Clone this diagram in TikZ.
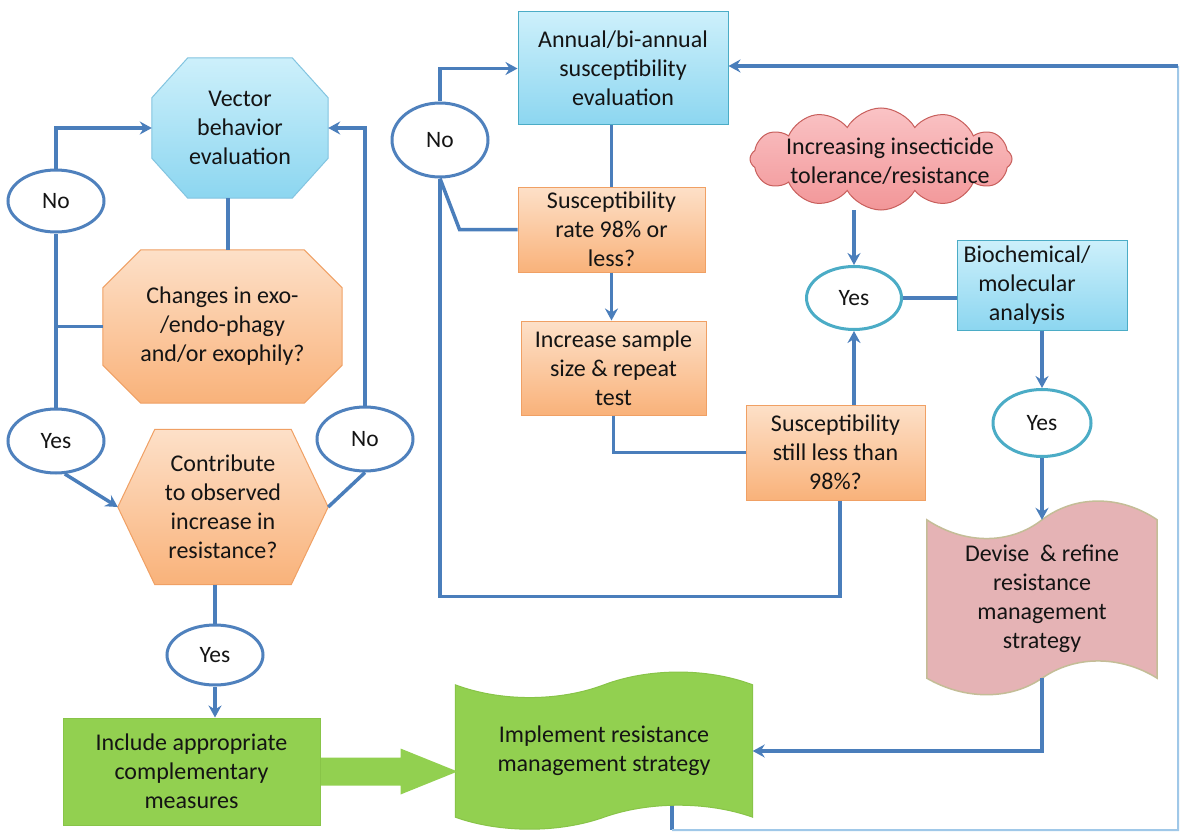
\documentclass[tikz,border=0pt]{standalone}
\usepackage{fontspec}
\setmainfont{Carlito}
\usetikzlibrary{arrows.meta,shapes.geometric,shapes.symbols,calc}
\pgfdeclarelayer{bg}
\pgfsetlayers{bg,main}
\definecolor{lineblue}{RGB}{74,126,187}
\definecolor{ovalblue}{RGB}{79,129,189}
\definecolor{tealc}{RGB}{75,172,198}
\definecolor{bluel}{RGB}{130,196,224}
\definecolor{bluetop}{RGB}{205,240,251}
\definecolor{bluebot}{RGB}{140,214,240}
\definecolor{orangetop}{RGB}{253,224,200}
\definecolor{orangebot}{RGB}{249,178,122}
\definecolor{orangeline}{RGB}{240,160,100}
\definecolor{greenf}{RGB}{146,208,80}
\definecolor{greenl}{RGB}{136,196,72}
\definecolor{cloudtop}{RGB}{250,195,197}
\definecolor{cloudbot}{RGB}{242,150,152}
\definecolor{cloudline}{RGB}{200,95,92}
\definecolor{devf}{RGB}{229,179,181}
\definecolor{devl}{RGB}{196,189,151}
\definecolor{textc}{RGB}{20,20,20}
\definecolor{fbthin}{RGB}{160,200,232}
\begin{document}
\begin{tikzpicture}[x=1pt,y=-1pt,
  conn/.style={draw=lineblue, line width=3.5pt},
  arr/.style={conn, -{Stealth[length=12pt,width=13pt,inset=4pt]}},
  thinfb/.style={draw=fbthin, line width=2pt},
  txt/.style={align=center, font=\fontsize{24}{29}\selectfont, text=textc, inner sep=0pt},
  area/.style={txt, rectangle},
  oval/.style={ellipse, draw=ovalblue, line width=3pt, fill=white, inner sep=0pt, text=textc,
    font=\fontsize{23.5}{28}\selectfont},
  tealoval/.style={oval, draw=tealc},
  bluebox/.style={txt, rectangle, draw=tealc, line width=1pt, top color=bluetop, bottom color=bluebot},
  orangebox/.style={txt, rectangle, draw=orangeline, line width=1pt, top color=orangetop, bottom color=orangebot},
  greenbox/.style={txt, rectangle, draw=greenl, line width=1pt, fill=greenf},
]
\useasboundingbox (0,0) rectangle (1183,832);

% ---- left column ----
\node[area, minimum width=176pt, minimum height=140pt] (vb) at (240,128) {Vector\\behavior\\evaluation};
\node[area, minimum width=239pt, minimum height=153pt] (ch) at (222.5,326.5) {Changes in exo-\\/endo-phagy\\and/or exophily?};
\node[area, minimum width=210pt, minimum height=155pt] (ct) at (223,507) {Contribute\\to observed\\increase in\\resistance?};
\node[oval, minimum width=96pt, minimum height=62pt] (no1) at (56,201) {No};
\node[oval, minimum width=96pt, minimum height=64pt] (yes1) at (56,441) {Yes};
\node[oval, minimum width=96pt, minimum height=64pt] (no2) at (365,439) {No};
\node[oval, minimum width=96pt, minimum height=60pt] (yes3) at (215,655) {Yes};
\node[greenbox, minimum width=257pt, minimum height=107pt] (inc) at (191.5,771.5) {Include appropriate\\complementary\\measures};

% ---- middle / right ----
\node[bluebox, minimum width=210pt, minimum height=113pt] (ann) at (623,68.5) {Annual/bi-annual\\susceptibility\\evaluation};
\node[oval, minimum width=96pt, minimum height=74pt] (no4) at (440,140) {No};
\node[orangebox, minimum width=187pt, minimum height=85pt] (sus) at (611.5,229.5) {Susceptibility\\rate 98\% or\\less?};
\node[orangebox, minimum width=185pt, minimum height=94pt] (inc2) at (613.5,368) {Increase sample\\size \& repeat\\test};
\node[orangebox, minimum width=179pt, minimum height=95pt] (still) at (835.5,452.5) {Susceptibility\\still less than\\98\%?};
\node[cloud, cloud puffs=12, cloud puff arc=120, aspect=2.6, minimum width=262pt, minimum height=102pt,
      inner sep=0pt, draw=cloudline, line width=1pt, top color=cloudtop, bottom color=cloudbot] (cl) at (881,159) {};
\node[txt] (clt) at (890,161) {Increasing insecticide\\tolerance/resistance};
\node[tealoval, minimum width=95pt, minimum height=63pt] (yes4) at (854,298) {Yes};
\node[bluebox, minimum width=170pt, minimum height=90pt] (bio) at (1042,285) {};
\node[txt] (biot) at (1027,285) {Biochemical/\\molecular\\analysis};
\node[tealoval, minimum width=98pt, minimum height=67pt] (yes5) at (1042,423) {Yes};
\node[area, minimum width=230pt, minimum height=158pt] (dev) at (1042,599) {Devise\ \ \& refine\\resistance\\management\\strategy};
\node[area, minimum width=297pt, minimum height=132pt] (imp) at (604,751) {Implement resistance\\management strategy};

% ---- shapes on background ----
\begin{pgfonlayer}{bg}
\fill[white] (0,0) rectangle (1183,832);
\path[draw=bluel, line width=1pt, top color=bluetop, bottom color=bluebot]
  ([xshift=36pt]vb.north west) -- ([xshift=-36pt]vb.north east) -- ([yshift=-40pt]vb.north east)
  -- ([yshift=40pt]vb.south east) -- ([xshift=-36pt]vb.south east) -- ([xshift=36pt]vb.south west)
  -- ([yshift=40pt]vb.south west) -- ([yshift=-40pt]vb.north west) -- cycle;
\path[draw=orangeline, line width=1pt, top color=orangetop, bottom color=orangebot]
  ([xshift=38pt]ch.north west) -- ([xshift=-38pt]ch.north east) -- ([yshift=-38pt]ch.north east)
  -- ([yshift=38pt]ch.south east) -- ([xshift=-38pt]ch.south east) -- ([xshift=38pt]ch.south west)
  -- ([yshift=38pt]ch.south west) -- ([yshift=-38pt]ch.north west) -- cycle;
\path[draw=orangeline, line width=1pt, top color=orangetop, bottom color=orangebot]
  (ct.west) -- ([xshift=37pt]ct.north west) -- ([xshift=-37pt]ct.north east) -- (ct.east)
  -- ([xshift=-37pt]ct.south east) -- ([xshift=37pt]ct.south west) -- cycle;
\path[draw=devl, line width=1.5pt, fill=devf]
  (dev.north west) .. controls +(38,25) and +(-32,25) .. (dev.north)
  .. controls +(33,-25) and +(-37,-25) .. (dev.north east) -- (dev.south east)
  .. controls +(-37,-23) and +(33,-23) .. (dev.south)
  .. controls +(-32,22) and +(38,22) .. (dev.south west) -- cycle;
\path[draw=greenl, line width=1pt, fill=greenf]
  (imp.north west) .. controls +(45,17) and +(-45,17) .. (imp.north)
  .. controls +(45,-17) and +(-45,-17) .. (imp.north east) -- (imp.south east)
  .. controls +(-45,-16) and +(45,-16) .. (imp.south)
  .. controls +(-45,16) and +(45,16) .. (imp.south west) -- cycle;
\fill[greenf] ([yshift=14pt]inc.east) -- ++(80,0) -- ++(0,-9) -- ++(57,23) -- ++(-57,23) -- ++(0,-9)
  -- ([yshift=-14pt]inc.east) -- cycle;
\end{pgfonlayer}

% ---- connectors, left ----
\draw[conn] ([xshift=-12pt]vb.south) -- ([xshift=-12pt]vb.south |- ch.north);
\draw[conn] (yes1.north) -- (no1.south);
\draw[conn] (no1.south |- ch.west) -- (ch.west);
\draw[arr] (no1.north) |- (vb.west);
\draw[arr] (yes1.-75) -- (ct.west);
\draw[conn] (ct.east) -- (no2.south);
\draw[arr] (no2.north) |- (vb.east);
\draw[conn] (yes3.north |- ct.south) -- (yes3.north);
\draw[arr] (yes3.south) -- (yes3.south |- inc.north);

% ---- connectors, right ----
\draw[arr] (no4.north) |- (ann.west);
\draw[conn] (sus.north |- ann.south) -- (sus.north);
\draw[conn] (no4.south) -- ([xshift=-58pt]sus.west) -- (sus.west);
\draw[conn] ([xshift=4.5pt]still.south) -- ++(0,96) -| (no4.south);
\draw[arr] (sus.south) -- (sus.south |- inc2.north);
\draw[conn] (inc2.south) |- (still.west);
\draw[arr] (yes4.south |- still.north) -- (yes4.south);
\draw[arr] (yes4.north |- cl.south) -- (yes4.north);
\draw[conn] (yes4.east) -- (yes4.east -| bio.west);
\draw[arr] (bio.south) -- (yes5.north);
\draw[arr] (yes5.south) -- (dev.north);
\draw[arr] (dev.south) |- (imp.east);

% ---- feedback loop ----
\coordinate (fbc) at (1178,830);
\coordinate (fbt) at (1178,66);
\draw[conn] ([xshift=68pt,yshift=11pt]imp.south) -- ++(0,24) coordinate (fbb);
\draw[thinfb] (fbb) -- (fbc) -- (fbt);
\draw[arr] (fbt) -- (fbt -| ann.east);
\end{tikzpicture}
\end{document}
